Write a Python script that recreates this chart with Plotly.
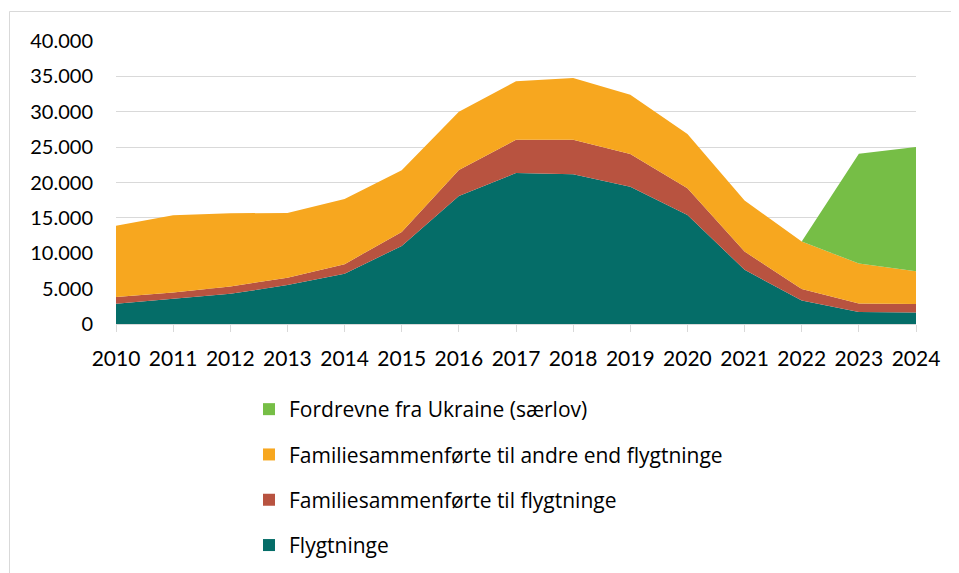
import plotly.graph_objects as go

years = list(range(2010, 2025))
flygtninge = [2860, 3530, 4270, 5500, 7090, 11040, 18100, 21340, 21150, 19410, 15420, 7660, 3330, 1690, 1640]
fam_flygt = [940, 930, 1040, 1030, 1370, 1980, 3660, 4700, 4890, 4610, 3760, 2580, 1610, 1220, 1180]
fam_andre = [10070, 10910, 10340, 9170, 9210, 8700, 8230, 8270, 8740, 8370, 7660, 7200, 6710, 5640, 4650]
ukraine = [0, 0, 0, 0, 0, 0, 0, 0, 0, 0, 0, 0, 0, 15510, 17540]

series = [
    ("Flygtninge", flygtninge, "#056d68"),
    ("Familiesammenførte til flygtninge", fam_flygt, "#b85340"),
    ("Familiesammenførte til andre end flygtninge", fam_andre, "#f7a71f"),
    ("Fordrevne fra Ukraine (særlov)", ukraine, "#76be46"),
]

fig = go.Figure()
for name, vals, col in series:
    fig.add_trace(go.Scatter(
        x=years, y=vals, name=name, stackgroup="s", mode="lines",
        line=dict(width=0, color=col), fillcolor=col, showlegend=False,
    ))

for i, (name, vals, col) in enumerate(reversed(series)):
    fig.add_trace(go.Scatter(
        x=[None], y=[None], mode="markers", name=name,
        marker=dict(symbol="square", size=14, color=col),
        legendgroup=f"g{i}", showlegend=True,
    ))

OFF = 8  # page body margin
W, H = 951, 565
L, R, T, B = 108, 43, 33, 249
pw = W - L - R
ph = H - T - B

def px(x):
    return (x - OFF - L) / pw

def py(y):
    return (H - B - (y - OFF)) / ph

fig.update_layout(
    width=W, height=H,
    margin=dict(l=L, r=R, t=T, b=B, autoexpand=False),
    paper_bgcolor="white", plot_bgcolor="white",
    separators=",.",
    font=dict(family="Lato", color="#000000"),
    xaxis=dict(
        range=[2010, 2024], tickmode="array", tickvals=years,
        ticktext=[str(y) for y in years],
        showgrid=False, zeroline=False,
        showline=True, linecolor="#d9d9d9", linewidth=1,
        ticks="outside", ticklen=7, tickcolor="#d9d9d9", tickwidth=1,
        tickfont=dict(family="Lato", size=21, color="#000"),
        ticklabelstandoff=9,
    ),
    yaxis=dict(
        range=[0, 40000], dtick=5000, tickformat=",d",
        showgrid=True, gridcolor="#d9d9d9", gridwidth=1.3,
        zeroline=False, showline=False,
        tickfont=dict(family="Lato", size=20, color="#000"),
        ticklabelstandoff=22,
    ),
    legend=dict(
        x=px(249), y=py(389), xanchor="left", yanchor="top",
        font=dict(family="Open Sans", size=21, color="#000"),
        tracegroupgap=15, itemsizing="constant",
        bgcolor="rgba(0,0,0,0)",
    ),
    showlegend=True,
    shapes=[dict(
        type="rect", xref="paper", yref="paper",
        x0=px(9.5), x1=px(975), y0=py(600), y1=py(11.5),
        line=dict(color="#d9d9d9", width=1), fillcolor="rgba(0,0,0,0)", layer="below",
    )],
)

fig.write_html("out.html")
